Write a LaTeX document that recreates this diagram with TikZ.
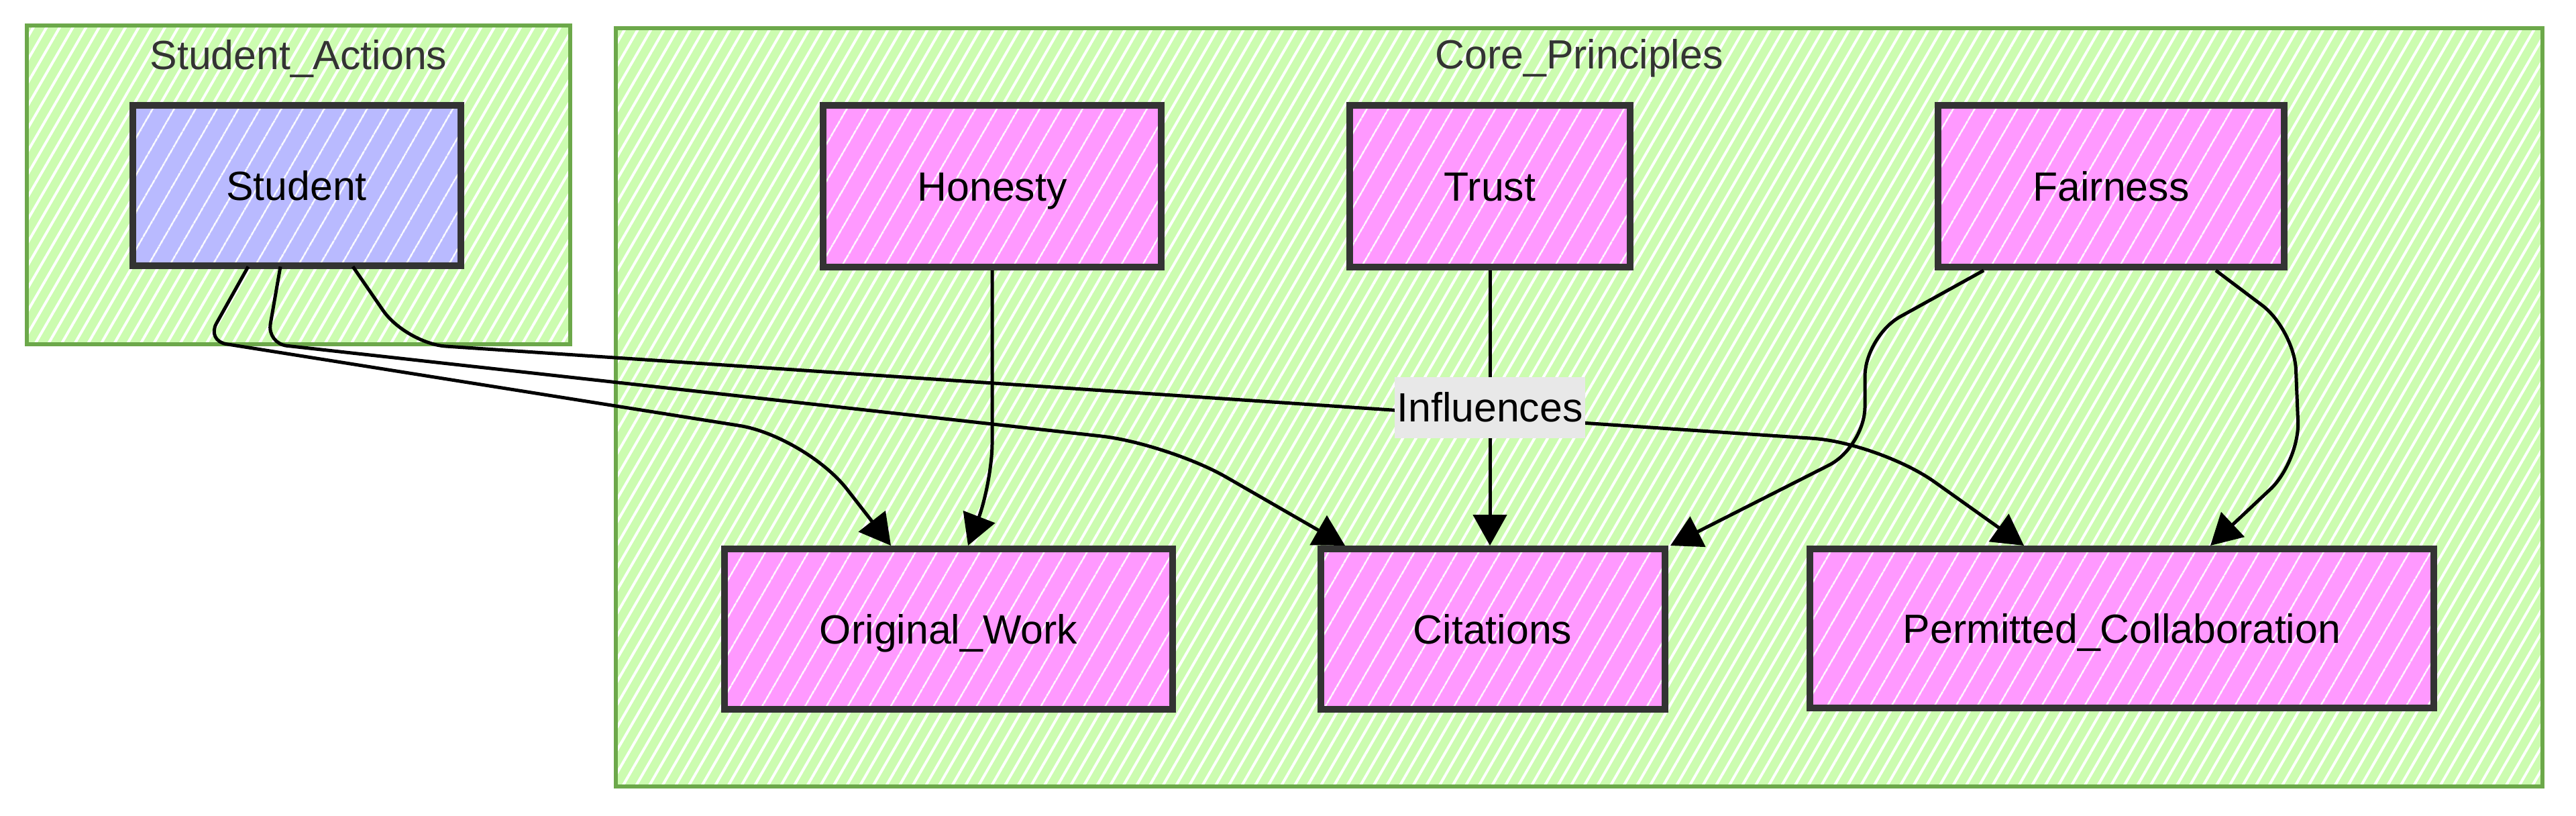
\documentclass[tikz,border=0pt]{standalone}
\usepackage{fontspec}
\setmainfont{Liberation Sans}
\usetikzlibrary{arrows.meta,patterns.meta,calc}
\definecolor{clgreen}{RGB}{204,252,176}
\definecolor{clborder}{RGB}{108,168,74}
\definecolor{nodepink}{RGB}{255,153,255}
\definecolor{nodeblue}{RGB}{185,186,255}
\definecolor{bdr}{RGB}{51,51,51}
\definecolor{lblbg}{RGB}{232,232,232}
\definecolor{titlec}{RGB}{51,51,51}
\begin{document}
\begin{tikzpicture}[
  cluster/.style={draw=clborder, line width=0.6mm, preaction={fill=clgreen},
    pattern={Lines[angle=60,distance=1.7mm,line width=0.4mm]}, pattern color=white, inner sep=0},
  box/.style={draw=bdr, line width=1mm, preaction={fill=#1},
    pattern={Lines[angle=60,distance=2.8mm,line width=0.25mm]}, pattern color=white,
    inner sep=0, text=black, text height=12.6pt, text depth=0pt, font=\fontsize{17.3}{20}\selectfont},
  box/.default=nodepink,
  title/.style={text=titlec, inner sep=0, font=\fontsize{17.3}{20}\selectfont},
  lbl/.style={fill=lblbg, inner xsep=0.3mm, inner ysep=0, minimum height=9.1mm, text=black, font=\fontsize{17.3}{20}\selectfont},
  edge/.style={black, line width=0.5mm, -{Triangle[length=4.6mm,width=5mm]}}
]
\useasboundingbox (0,0) rectangle (38.4,-12.15);

% clusters
\node[cluster, minimum width=8.10cm, minimum height=4.75cm] (sa) at (4.45,-2.755) {};
\node[title] (satitle) at (4.45,-0.88) {Student\_Actions};
\node[cluster, minimum width=28.72cm, minimum height=11.30cm] (core) at (23.54,-6.07) {};
\node[title] (coretitle) at (23.54,-0.87) {Core\_Principles};

% nodes
\node[box=nodeblue, minimum width=4.89cm, minimum height=2.39cm] (stu) at (4.42,-2.765) {Student};
\node[box, minimum width=5.04cm, minimum height=2.41cm] (hon) at (14.79,-2.775) {Honesty};
\node[box, minimum width=4.18cm, minimum height=2.41cm] (tru) at (22.21,-2.775) {Trust};
\node[box, minimum width=5.16cm, minimum height=2.41cm] (fai) at (31.47,-2.775) {Fairness};
\node[box, minimum width=6.68cm, minimum height=2.39cm] (ow) at (14.14,-9.375) {Original\_Work};
\node[box, minimum width=5.13cm, minimum height=2.39cm] (cit) at (22.25,-9.375) {Citations};
\node[box, minimum width=9.30cm, minimum height=2.37cm] (pc) at (31.63,-9.365) {Permitted\_Collaboration};

% edges
\draw[edge, rounded corners=3mm] ([xshift=-7.2mm]stu.south) -- (3.08,-5.08) [rounded corners=10mm] -- (12.01,-6.50) -- ([xshift=-8.6mm]ow.north);
\draw[edge, rounded corners=3mm] ([xshift=-2.4mm]stu.south) -- (3.98,-5.12) [rounded corners=10mm] -- (17.41,-6.61) -- ([xshift=-22mm]cit.north);
\draw[edge, rounded corners=6mm] ([xshift=8.4mm]stu.south) -- (6.05,-5.12) [rounded corners=10mm] -- (28.02,-6.60) -- ([xshift=-14.6mm]pc.north);
\draw[edge, rounded corners=6mm] (hon.south) -- (14.79,-7.2) -- ([xshift=2.9mm]ow.north);
\draw[edge] (tru.south) -- (tru.south |- cit.north);
\draw[edge, rounded corners=6mm] ([xshift=-19mm]fai.south) -- (27.80,-5.01) -- (27.80,-6.66) -- ([xshift=26.5mm]cit.north);
\draw[edge, rounded corners=6mm] ([xshift=15.6mm]fai.south) -- (34.20,-4.91) -- (34.28,-6.88) -- ([xshift=13.2mm]pc.north);

% edge label
\node[lbl] (inf) at (22.21,-6.07) {Influences};
\end{tikzpicture}
\end{document}
